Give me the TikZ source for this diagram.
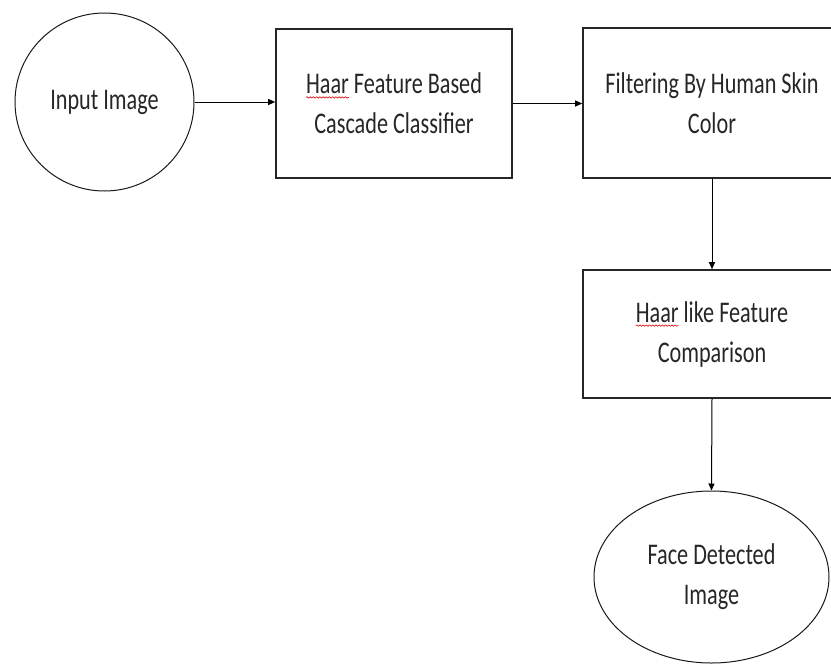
\documentclass[tikz,border=0pt]{standalone}
\usepackage{fontspec}
\setmainfont{Carlito}[FakeStretch=0.74]
\usetikzlibrary{shapes.geometric, arrows.meta, decorations.pathmorphing}
\tikzset{
    flow-box/.style = {draw=black!85, line width=0.8pt, rectangle, align=center, inner sep=0pt},
    flow-ellipse/.style = {draw=black!90, line width=0.5pt, ellipse, align=center, inner sep=0pt},
    flow-arrow/.style = {draw=black, line width=0.5pt, -{Triangle[length=3.5pt, width=3pt]}},
    spell-mark/.style = {draw=red!85!black, line width=0.3pt, decorate, decoration={snake, amplitude=0.35pt, segment length=1.6pt}},
    every node/.style = {font=\fontsize{15pt}{20pt}\selectfont, text=black!85},
}
\newcommand{\misspelt}[1]{\sbox0{#1}\tikz[overlay, baseline=0pt]\draw[spell-mark] (0pt,-1.8pt) -- (\the\wd0,-1.8pt);\usebox0}

\begin{document}
\begin{tikzpicture}
\useasboundingbox (0pt,0pt) rectangle (415.5pt,-332.5pt);
\node [flow-ellipse, minimum width=89.5pt, minimum height=89pt] (in-img) at (52.25pt,-51pt) {Input Image};
\node [flow-box, minimum width=118pt, minimum height=74.5pt] (haar-box) at (197pt,-51.75pt) {\misspelt{Haar} Feature Based\\Cascade Classifier};
\node [flow-box, minimum width=129pt, minimum height=75pt] (skin-box) at (356pt,-51.5pt) {Filtering By Human Skin\\Color};
\node [flow-box, minimum width=129pt, minimum height=64pt] (compare-box) at (356pt,-167pt) {\misspelt{Haar} like Feature\\Comparison};
\node [flow-ellipse, minimum width=117.5pt, minimum height=86pt] (face-img) at (355.75pt,-288.5pt) {Face Detected\\Image};

\draw [flow-arrow] (in-img.east) -- (in-img.east -| haar-box.west);
\draw [flow-arrow] (haar-box.east) -- (haar-box.east -| skin-box.west);
\draw [flow-arrow] (skin-box.south) -- (compare-box.north);
\draw [flow-arrow] (compare-box.south) -- (face-img.north);
\end{tikzpicture}
\end{document}
